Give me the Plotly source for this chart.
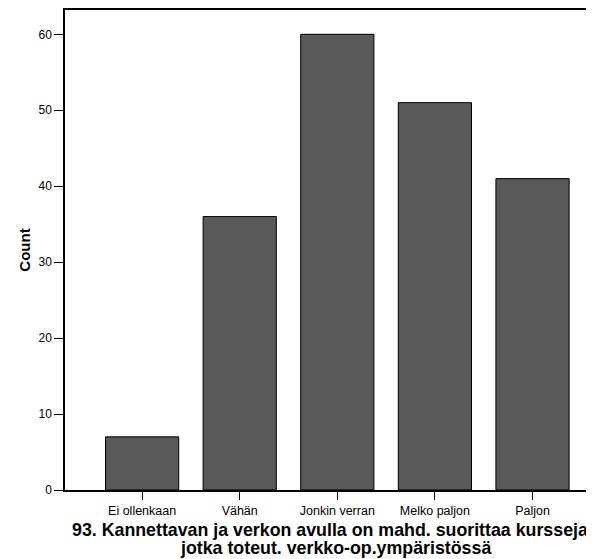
import plotly.graph_objects as go

categories = ["Ei ollenkaan", "Vähän", "Jonkin verran", "Melko paljon", "Paljon"]
counts = [7, 36, 60, 51, 41]
y_ticks = [0, 10, 20, 30, 40, 50, 60]
x_title_lines = ["93. Kannettavan ja verkon avulla on mahd. suorittaa kursseja",
                 "jotka toteut. verkko-op.ympäristössä"]

fig = go.Figure(go.Bar(
    x=categories, y=counts,
    marker=dict(color="#595959", line=dict(color="#000000", width=1)),
    width=0.75,
))

# page body has an 8px margin; figure sized so the visible window matches
fig.update_layout(
    width=586, height=551,
    margin=dict(l=57, r=0, t=2, b=69),
    plot_bgcolor="white", paper_bgcolor="white",
    font=dict(family="Liberation Sans, Arial, sans-serif", color="black", size=12),
    showlegend=False,
)
fig.update_xaxes(
    range=[-0.79, 4.63],
    showline=True, linecolor="black", linewidth=1.5, mirror=True,
    ticks="outside", ticklen=8, tickcolor="black",
    tickfont=dict(size=12.5),
    showgrid=False,
)
fig.update_yaxes(
    range=[0, 63.2],
    tickvals=y_ticks,
    showline=True, linecolor="black", linewidth=1.5,
    ticks="outside", ticklen=9, tickcolor="black",
    tickfont=dict(size=12),
    title=dict(text="<b>Count</b>", font=dict(size=15), standoff=4),
    showgrid=False, zeroline=False,
)
for i, line in enumerate(x_title_lines):
    fig.add_annotation(
        text="<b>" + line + "</b>", xref="paper", yref="paper",
        x=0.5, y=0, xanchor="center", yanchor="middle",
        yshift=-39.5 - 18.5 * i, xshift=6 * i,
        showarrow=False, font=dict(size=17.8),
    )

fig.write_html("out.html")
